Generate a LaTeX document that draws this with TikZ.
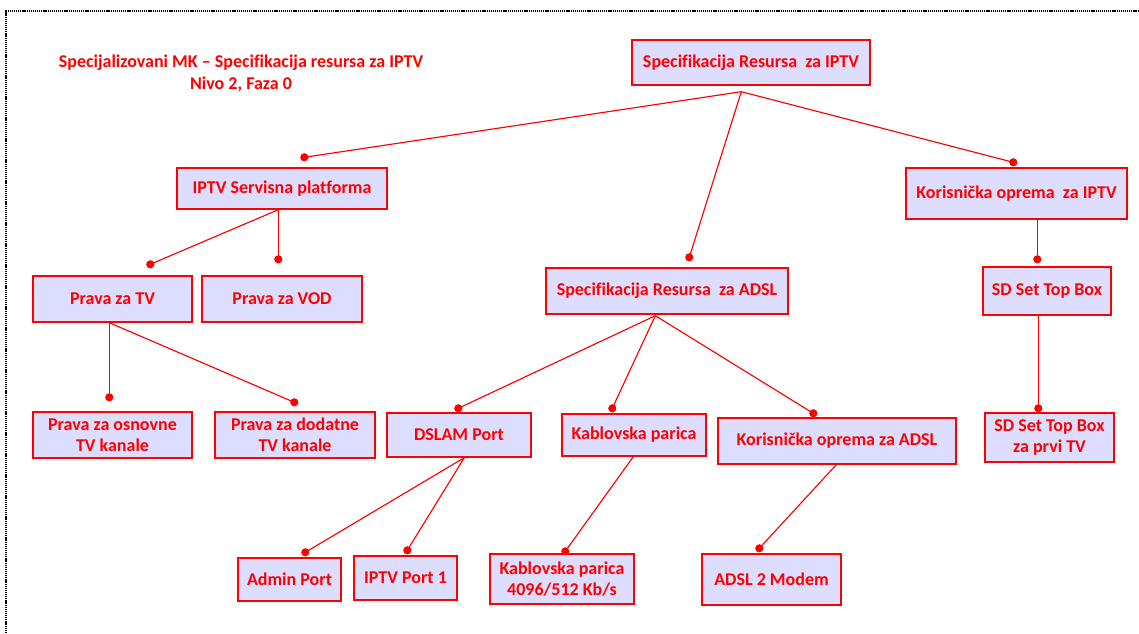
\documentclass[tikz,border=0pt]{standalone}
\usepackage{fontspec}
\setmainfont{Carlito}[Ligatures=NoCommon]
\usetikzlibrary{calc}
\definecolor{boxfill}{RGB}{221,221,255}
\definecolor{rd}{RGB}{255,0,0}
\begin{document}
\begin{tikzpicture}[x=1pt,y=-1pt,
  bx/.style={draw=rd, line width=1.4pt, fill=boxfill, text=rd,
    font=\bfseries\fontsize{18pt}{21pt}\selectfont, align=center, inner sep=0pt},
  conn/.style={draw=rd, line width=1.15pt},
  dotc/.style={fill=rd},
  frame/.style={draw=black, line width=1.4pt, dash pattern=on 1.2pt off 0.9pt},
  titletext/.style={text=rd, font=\bfseries\fontsize{18pt}{22pt}\selectfont, align=center, inner sep=0pt}]
\useasboundingbox (0,0) rectangle (1139,633);
\fill[white] (0,0) rectangle (1139,633);
\draw[frame] (6,633) -- (6,11) -- (1139,11);

\node[titletext] (title) at (241,73) {Specijalizovani MK – Specifikacija resursa za IPTV\\Nivo 2, Faza 0};

\node[bx, minimum width=238pt, minimum height=45pt] (root) at (751,62.5) {Specifikacija Resursa\ \ za IPTV};
\node[bx, minimum width=210pt, minimum height=41pt] (plat) at (282,188.5) {IPTV Servisna platforma};
\node[bx, minimum width=221pt, minimum height=51pt] (kor) at (1016.5,193.5) {Korisnička oprema\ \ za IPTV};
\node[bx, minimum width=242pt, minimum height=46pt] (adsl) at (667,291) {Specifikacija Resursa\ \ za ADSL};
\node[bx, minimum width=128pt, minimum height=48pt] (sd) at (1047,291) {SD Set Top Box};
\node[bx, minimum width=159pt, minimum height=46pt] (tv) at (112.5,299) {Prava za TV};
\node[bx, minimum width=160pt, minimum height=46pt] (vod) at (282,299) {Prava za VOD};
\node[bx, minimum width=159pt, minimum height=46pt] (osn) at (112.5,435) {Prava za osnovne\\TV kanale};
\node[bx, minimum width=160pt, minimum height=46pt] (dod) at (295,435) {Prava za dodatne\\TV kanale};
\node[bx, minimum width=144pt, minimum height=44pt] (dslam) at (459,435) {DSLAM Port};
\node[bx, minimum width=144pt, minimum height=42pt] (kab) at (634,435) {Kablovska parica};
\node[bx, minimum width=238pt, minimum height=46pt] (kora) at (837,441) {Korisnička oprema za ADSL};
\node[bx, minimum width=129pt, minimum height=49pt] (sdtwo) at (1049.5,437.5) {SD Set Top Box\\za prvi TV};
\node[bx, minimum width=103pt, minimum height=43pt] (admin) at (289.5,579.5) {Admin Port};
\node[bx, minimum width=103pt, minimum height=44pt] (iptvone) at (405.5,578) {IPTV Port 1};
\node[bx, minimum width=144pt, minimum height=50pt] (kabtwo) at (562,579) {Kablovska parica\\4096/512 Kb/s};
\node[bx, minimum width=139pt, minimum height=51pt] (modem) at (771.5,579.5) {ADSL 2 Modem};

% origins on parents
\coordinate (o-root) at ($(root.south west)+(110,6)$);
\coordinate (o-plat) at ($(plat.south west)+(102,0)$);
\coordinate (o-tv) at ($(tv.south west)+(77,0)$);
\coordinate (o-kor) at ($(kor.south west)+(132,0)$);
\coordinate (o-sd) at ($(sd.south west)+(56,0)$);
\coordinate (o-adsl) at ($(adsl.south west)+(110,1)$);
\coordinate (o-dslam) at ($(dslam.south west)+(78,0)$);
\coordinate (o-kab) at ($(kab.south west)+(72,0)$);
\coordinate (o-kora) at ($(kora.south west)+(119,0)$);

% dots above children
\coordinate (d-plat) at ($(plat.north west)+(128,-10)$);
\coordinate (d-adsl) at ($(adsl.north west)+(144,-10)$);
\coordinate (d-kor) at ($(kor.north west)+(108,-5)$);
\coordinate (d-tv) at ($(tv.north west)+(118,-11)$);
\coordinate (d-vod) at ($(vod.north west)+(77,-16)$);
\coordinate (d-osn) at ($(osn.north west)+(77,-14)$);
\coordinate (d-dod) at ($(dod.north west)+(80,-9)$);
\coordinate (d-sd) at ($(sd.north west)+(55,-7)$);
\coordinate (d-sdtwo) at ($(sdtwo.north west)+(54,-4)$);
\coordinate (d-dslam) at ($(dslam.north west)+(72,-4)$);
\coordinate (d-kab) at ($(kab.north west)+(51,-5)$);
\coordinate (d-kora) at ($(kora.north west)+(96,-4)$);
\coordinate (d-admin) at ($(admin.north west)+(68,-5)$);
\coordinate (d-iptvone) at ($(iptvone.north west)+(54,-5)$);
\coordinate (d-kabtwo) at ($(kabtwo.north west)+(76,-2)$);
\coordinate (d-modem) at ($(modem.north west)+(58,-5)$);

\draw[conn] (o-root) -- (d-plat);
\draw[conn] (o-root) -- (d-adsl);
\draw[conn] (o-root) -- (d-kor);
\draw[conn] (o-plat) -- (d-tv);
\draw[conn] (o-plat) -- (d-vod);
\draw[conn] (o-tv) -- (d-osn);
\draw[conn] (o-tv) -- (d-dod);
\draw[conn] (o-kor) -- (d-sd);
\draw[conn] (o-sd) -- (d-sdtwo);
\draw[conn] (o-adsl) -- (d-dslam);
\draw[conn] (o-adsl) -- (d-kab);
\draw[conn] (o-adsl) -- (d-kora);
\draw[conn] (o-dslam) -- (d-admin);
\draw[conn] (o-dslam) -- (d-iptvone);
\draw[conn] (o-kab) -- (d-kabtwo);
\draw[conn] (o-kora) -- (d-modem);

\foreach \d in {plat,adsl,kor,tv,vod,osn,dod,sd,sdtwo,dslam,kab,kora,admin,iptvone,kabtwo,modem}
  \fill[dotc] (d-\d) circle (4.1pt);
\end{tikzpicture}
\end{document}
